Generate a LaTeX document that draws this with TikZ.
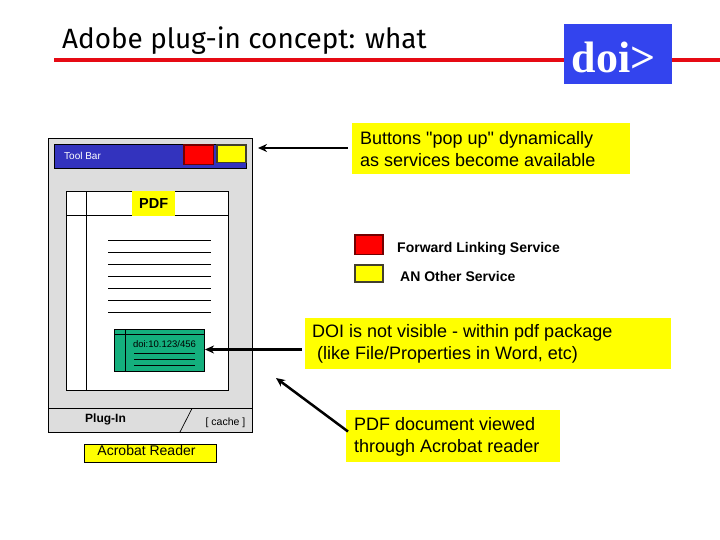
\documentclass[tikz,border=0pt]{standalone}
\usepackage{fontspec}
\setmainfont[Ligatures=TeXOff]{Liberation Sans}
\newfontfamily\titlefont{Fira Sans}
\newfontfamily\doifont{Liberation Serif}
\usetikzlibrary{arrows.meta}
\definecolor{rulered}{RGB}{230,10,20}
\definecolor{doiblue}{RGB}{51,68,238}
\definecolor{barblue}{RGB}{51,51,190}
\definecolor{winGray}{RGB}{221,221,221}
\definecolor{noteyellow}{RGB}{255,255,0}
\definecolor{docgreen}{RGB}{20,175,125}
\tikzset{
  x=1pt,y=-1pt,
  note/.style={fill=noteyellow,draw=none,anchor=north west,inner sep=0pt},
  txt/.style={inner sep=0pt,anchor=west,font=\fontsize{#1}{21.5}\selectfont,text=black},
  thinline/.style={draw=black,line width=0.7pt},
  ptr/.style={draw=black,line width=#1,-{Stealth[length=9pt,width=8pt]}},
  pick/.style={line width=1.2pt},
}
\begin{document}
\begin{tikzpicture}
\useasboundingbox (0,0) rectangle (720,540);
% title
\draw[rulered,line width=4pt] (54,60) -- (720,60);
\node[anchor=west,inner sep=0pt,font=\titlefont\fontsize{27.9}{28}\selectfont] (title) at (62,40.5) {Adobe plug-in concept: what};
\node[fill=doiblue,minimum width=108pt,minimum height=60pt,inner sep=0pt,anchor=north west] (logo) at (564,24) {};
\node[inner sep=0pt,text=white,font=\doifont\bfseries\fontsize{44}{44}\selectfont] (logotext) at (613.5,57) {doi>};
% window
\draw[thinline,fill=winGray] (48.3,138.3) rectangle (252.3,432.3);
\draw[thinline] (48.3,408.3) -- (252.3,408.3);
\draw[thinline] (192,408.5) -- (180,432);
\draw[thinline,fill=barblue] (54.3,144.3) rectangle (246.7,168.3);
\node[txt=10,text=white] (toolbar) at (64,156) {Tool Bar};
\draw[pick,draw=red!45!black,fill=red] (184,145) rectangle (213.5,164.5);
\draw[pick,draw=black!70!olive,fill=noteyellow] (217,145) rectangle (246,162.5);
% doc
\draw[thinline,fill=white] (66.5,191.3) rectangle (228.5,390.3);
\draw[thinline] (86.7,191.3) -- (86.7,390.3);
\draw[thinline] (66.5,215.3) -- (228.5,215.3);
\node[fill=noteyellow,minimum width=43pt,minimum height=25pt,inner sep=0pt,anchor=north west,font=\bfseries\fontsize{14.5}{14.5}\selectfont] (pdf) at (132,191) {PDF};
\foreach \y in {240.3,252.3,264.3,276.3,288.3,300.3,312.3}
  \draw[thinline] (108,\y) -- (211,\y);
% green
\draw[thinline,fill=docgreen] (114.3,329.3) rectangle (204.7,371.7);
\draw[thinline] (114.3,334.5) -- (204.7,334.5);
\draw[thinline] (125.7,329.3) -- (125.7,371.7);
\node[inner sep=0pt,font=\fontsize{9.5}{9.5}\selectfont] (doi) at (164.5,344) {doi:10.123/456};
\foreach \y in {353.3,359.5,365.5}
  \draw[thinline] (134,\y) -- (195,\y);
% bottom labels
\node[inner sep=0pt,font=\bfseries\fontsize{12}{12}\selectfont] (plug) at (105.5,419) {Plug-In};
\node[inner sep=0pt,font=\fontsize{10.5}{10.5}\selectfont] (cache) at (225.5,423) {[ cache ]};
\draw[thinline,fill=noteyellow] (84.5,444.3) rectangle (216.5,462.3);
\node[inner sep=0pt,font=\fontsize{14}{14}\selectfont] (acro) at (146.5,450.5) {Acrobat Reader};
% notes
\node[note,minimum width=278pt,minimum height=51pt] (n1) at (351.5,123) {};
\node[txt=18,align=left] (t1) at (360,149) {Buttons "pop up" dynamically\\as services become available};
\node[note,minimum width=366pt,minimum height=51pt] (n2) at (305,318) {};
\node[txt=18,align=left] (t2) at (312,344) {DOI is not visible - within pdf package\\\ (like File/Properties in Word, etc)};
\node[note,minimum width=214pt,minimum height=52pt] (n3) at (346,410) {};
\node[txt=18,align=left] (t3) at (354,437) {PDF document viewed\\through Acrobat reader};
% legend
\draw[pick,draw=red!45!black,fill=red] (355,235) rectangle (383,254.5);
\draw[pick,draw=black!70!olive,fill=noteyellow] (355,265) rectangle (383,282);
\node[txt=14,font=\bfseries\fontsize{14}{14}\selectfont] (l1) at (397,248.5) {Forward Linking Service};
\node[txt=14,font=\bfseries\fontsize{14}{14}\selectfont] (l2) at (400,276.5) {AN Other Service};
% arrows
\coordinate (a1) at (258,148);
\draw[ptr=1.5pt,shorten <=4pt] (n1.west |- a1) -- (a1);
\coordinate (a2) at (205,349.5);
\draw[ptr=2.5pt,shorten <=3pt] (n2.west |- a2) -- (a2);
\coordinate (a3) at (276,378);
\coordinate (a3s) at (348,431.5);
\draw[ptr=2.5pt] (a3s) -- (a3);
\end{tikzpicture}
\end{document}
